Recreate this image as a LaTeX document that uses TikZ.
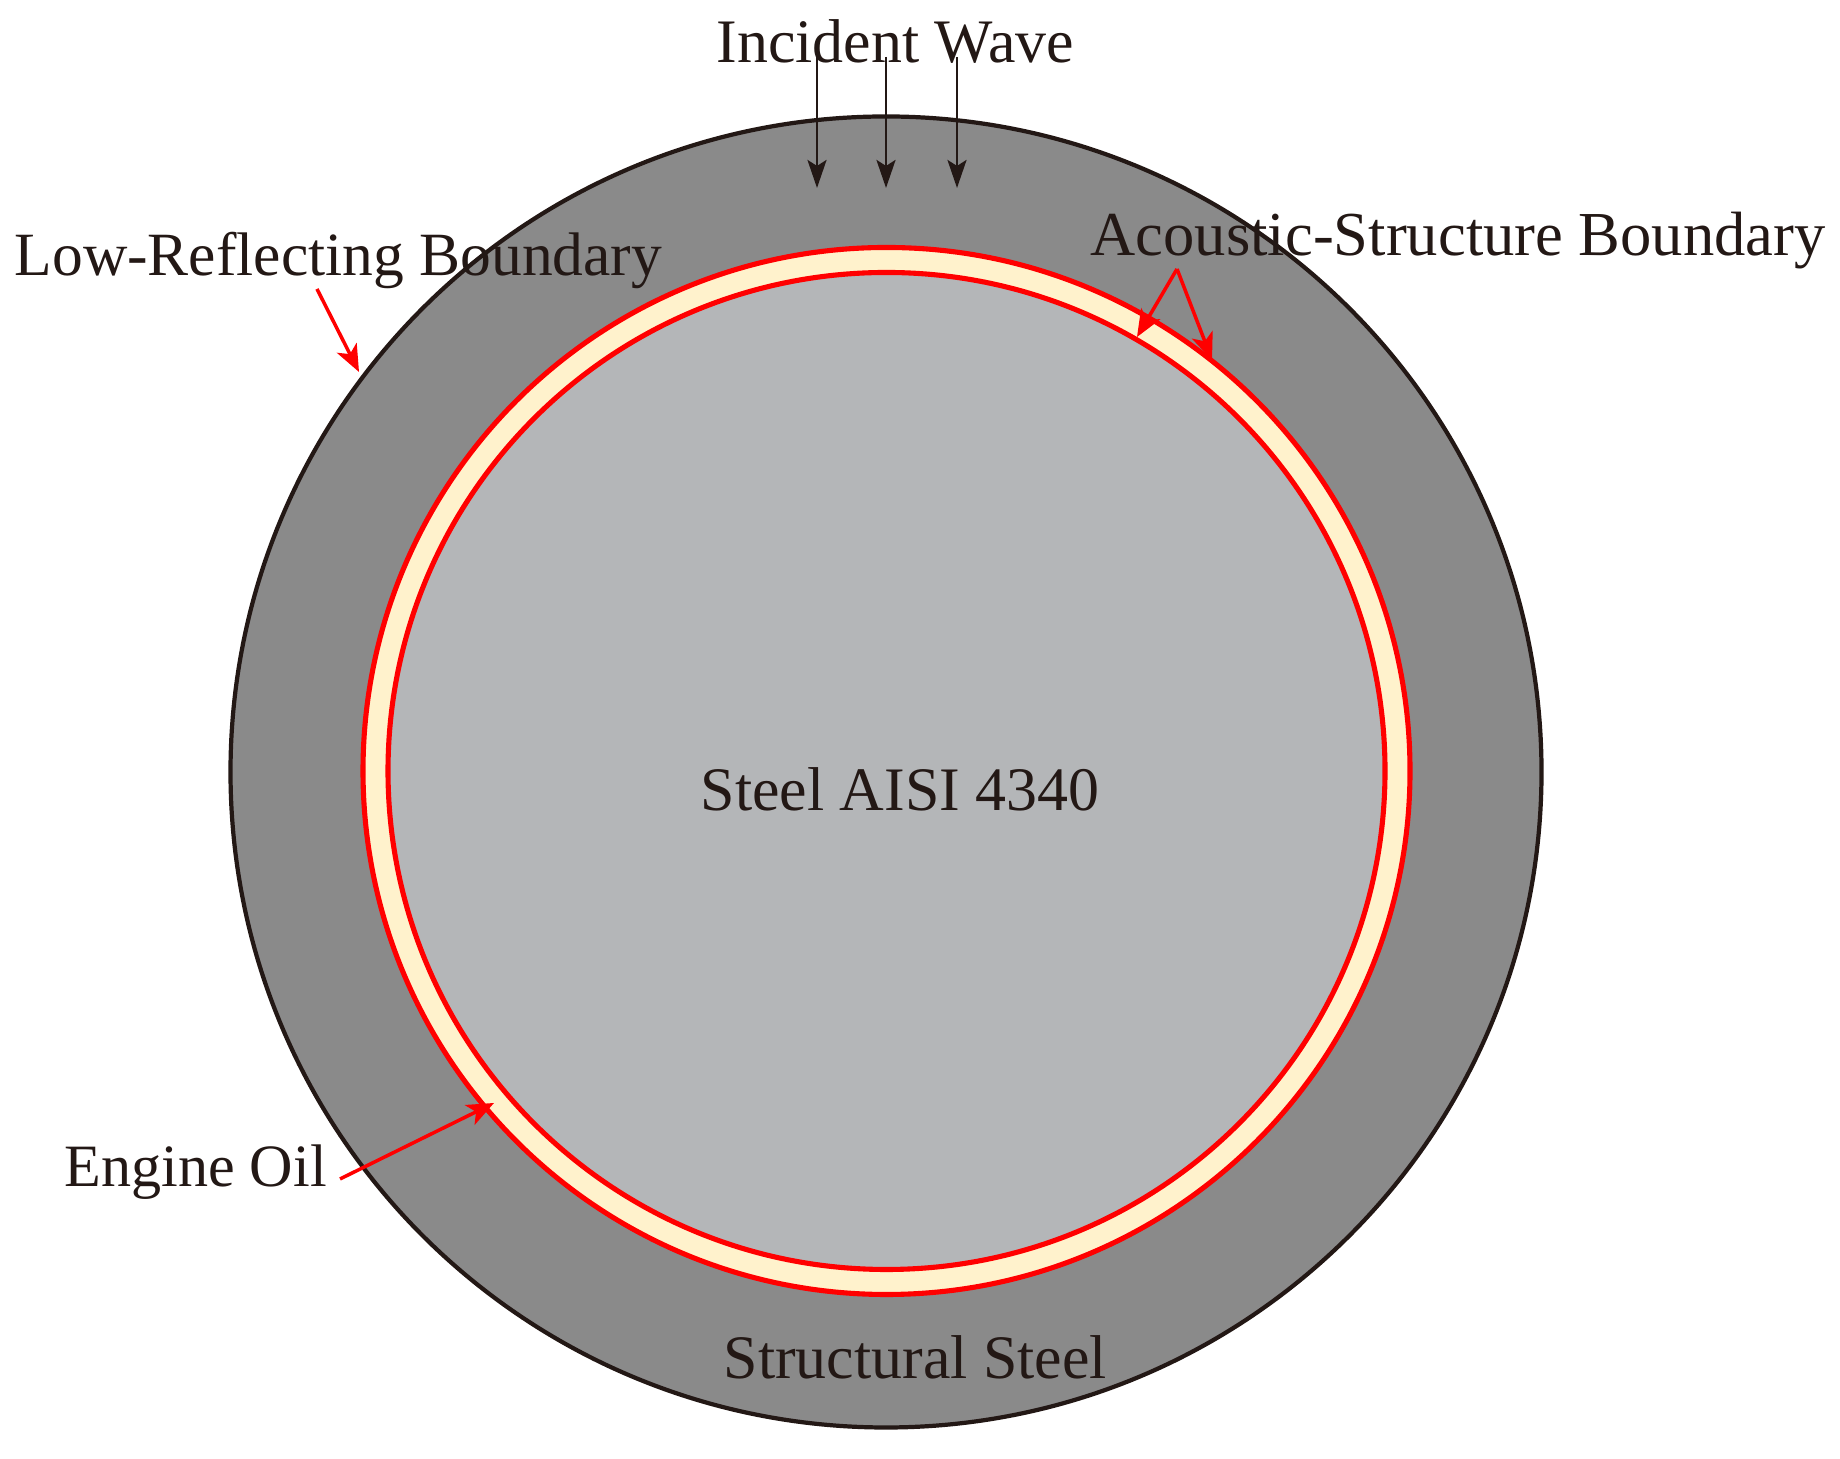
\documentclass[tikz,border=0pt]{standalone}
\usepackage{fontspec}
\setmainfont{Liberation Serif}
\usetikzlibrary{arrows.meta}
\definecolor{inkdark}{HTML}{231815}
\definecolor{shellgray}{HTML}{8A8A8A}
\definecolor{coregray}{HTML}{B4B6B8}
\definecolor{oilcream}{HTML}{FFF2CC}
\tikzset{
  label/.style={text=inkdark,inner sep=0pt,anchor=base west,font=\fontsize{#1}{20}\selectfont},
  label/.default=17.6,
  wavearrow/.style={draw=inkdark,line width=0.8pt,-{Stealth[length=0.28cm,width=0.19cm,inset=0.06cm]}},
  redarrow/.style={draw=red,line width=1pt,-{Stealth[length=0.27cm,width=0.22cm,inset=0.07cm]}}
}
\begin{document}
\begin{tikzpicture}
  \useasboundingbox (0,0) rectangle (18.40,14.59);
  \coordinate (centre) at (8.86,6.87);
  \coordinate (ringcentre) at (8.865,6.88);
  % circles
  \draw[draw=inkdark,fill=shellgray,line width=1.2pt] (centre) circle (6.555);
  \draw[draw=red,fill=oilcream,line width=1.45pt] (ringcentre) circle (5.235);
  \draw[draw=red,fill=coregray,line width=1.45pt] (ringcentre) circle (4.985);
  % labels
  \node[label] (incident) at (7.16,13.96) {Incident Wave};
  \node[label=17.5] (lowrefl) at (0.14,11.83) {Low-Reflecting Boundary};
  \node[label=17.8] (acoustic) at (10.90,12.03) {Acoustic-Structure Boundary};
  \node[label] (core) at (7.00,6.48) {Steel AISI 4340};
  \node[label=17.1] (oil) at (0.64,2.72) {Engine Oil};
  \node[label] (shell) at (7.23,0.80) {Structural Steel};
  % arrow ends
  \coordinate (w1a) at (8.17,14.02);
  \coordinate (w1b) at (8.17,12.71);
  \coordinate (w2a) at (8.86,14.02);
  \coordinate (w2b) at (8.86,12.71);
  \coordinate (w3a) at (9.57,14.02);
  \coordinate (w3b) at (9.57,12.71);
  \coordinate (lowa) at (3.17,11.70);
  \coordinate (lowb) at (3.59,10.87);
  \coordinate (apex) at (11.77,11.90);
  \coordinate (inb) at (11.37,11.22);
  \coordinate (outb) at (12.12,10.99);
  \coordinate (oila) at (3.40,2.80);
  \coordinate (oilb) at (4.94,3.56);
  \draw[wavearrow] (w1a) -- (w1b);
  \draw[wavearrow] (w2a) -- (w2b);
  \draw[wavearrow] (w3a) -- (w3b);
  \draw[redarrow] (lowa) -- (lowb);
  \draw[redarrow] (apex) -- (inb);
  \draw[redarrow] (apex) -- (outb);
  \draw[redarrow] (oila) -- (oilb);
\end{tikzpicture}
\end{document}
